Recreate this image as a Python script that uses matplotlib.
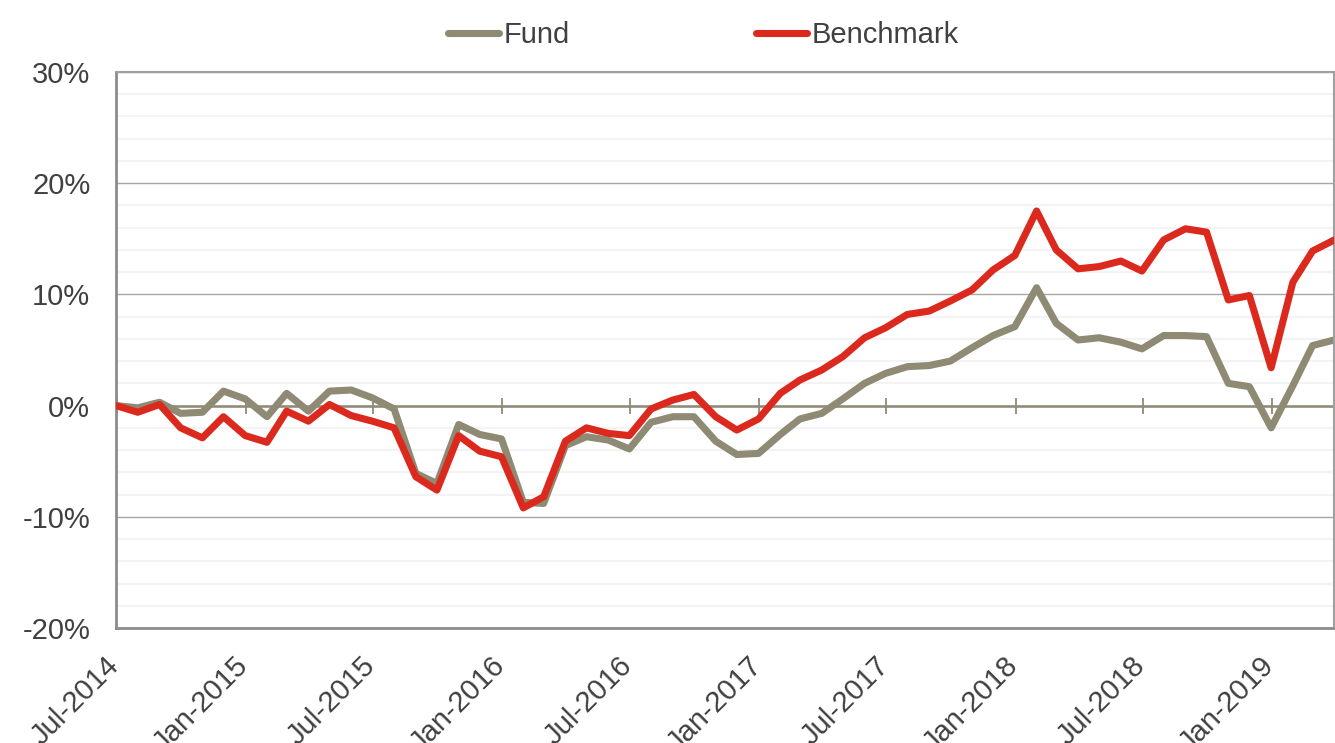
import pandas as pd
import matplotlib.pyplot as plt
import matplotlib.dates as mdates
import matplotlib.transforms as mtransforms
from matplotlib.ticker import MultipleLocator, FuncFormatter

plt.rcParams['font.family'] = ['Liberation Sans', 'DejaVu Sans']

# month-end dates, Jun-2014 .. Mar-2019
dates = pd.date_range("2014-06-30", "2019-03-31", freq="ME")

# cumulative return, %
fund = [0.0, -0.2, 0.3, -0.7, -0.6, 1.3, 0.6, -1.0, 1.1, -0.5,
        1.3, 1.4, 0.7, -0.3, -6.1, -7.0, -1.7, -2.6, -3.0, -8.7,
        -8.8, -3.6, -2.8, -3.1, -3.9, -1.5, -1.0, -1.0, -3.2, -4.4,
        -4.3, -2.6, -1.2, -0.7, 0.6, 2.0, 2.9, 3.5, 3.6, 4.0,
        5.2, 6.3, 7.1, 10.6, 7.4, 5.9, 6.1, 5.7, 5.1, 6.3,
        6.3, 6.2, 2.0, 1.7, -2.0, 1.8, 5.4, 5.9]
benchmark = [0.0, -0.6, 0.1, -2.0, -2.9, -1.0, -2.7, -3.3, -0.5, -1.4,
             0.1, -0.9, -1.4, -2.0, -6.4, -7.6, -2.7, -4.1, -4.6, -9.2,
             -8.2, -3.2, -2.0, -2.5, -2.7, -0.3, 0.5, 1.0, -1.0, -2.2,
             -1.2, 1.1, 2.3, 3.2, 4.4, 6.1, 7.0, 8.2, 8.5, 9.4,
             10.4, 12.2, 13.5, 17.5, 14.0, 12.3, 12.5, 13.0, 12.1, 14.9,
             15.9, 15.6, 9.5, 9.9, 3.4, 11.1, 13.9, 14.9]

tick_dates = pd.date_range("2014-07-01", "2019-01-01", freq="6MS")
tick_labels = [d.strftime("%b-%Y") for d in tick_dates]

FUND_COLOR = "#8f8a74"
BENCH_COLOR = "#dc291e"
TEXT_COLOR = "#404040"
FS = 21

x = mdates.date2num(dates)
xt = mdates.date2num(tick_dates)

fig = plt.figure(figsize=(13.35, 7.43), dpi=100)
ax = fig.add_axes([0.0869, 0.1548, 0.9126, 0.7483])

ax.plot(x, fund, color=FUND_COLOR, lw=5.1, solid_joinstyle="round",
        solid_capstyle="round", label="Fund", zorder=2)
ax.plot(x, benchmark, color=BENCH_COLOR, lw=5.1, solid_joinstyle="round",
        solid_capstyle="round", label="Benchmark", zorder=3)

ax.set_xlim(x[0], x[-1])
ax.set_ylim(-20, 30)
ax.yaxis.set_major_locator(MultipleLocator(10))
ax.yaxis.set_minor_locator(MultipleLocator(2))
ax.yaxis.set_major_formatter(FuncFormatter(lambda v, p: f"{v:.0f}%"))

ax.set_axisbelow(True)
ax.grid(axis="y", which="major", color="#a6a6a6", lw=1.0)
ax.grid(axis="y", which="minor", color="#f3f3f3", lw=1.5)
ax.tick_params(axis="y", which="both", length=0, pad=18.5,
               labelsize=FS, labelcolor=TEXT_COLOR)

ax.set_xticks(xt)
ax.set_xticklabels(tick_labels, rotation=45, ha="right")
ax.tick_params(axis="x", length=0, pad=17, labelsize=FS,
               labelcolor=TEXT_COLOR)
shift = mtransforms.ScaledTranslation(0.08, 0, fig.dpi_scale_trans)
for lab in ax.get_xticklabels():
    lab.set_transform(lab.get_transform() + shift)

for side in ["left", "bottom"]:
    ax.spines[side].set_color("#8c8c8c")
    ax.spines[side].set_linewidth(2)
for side in ["top", "right"]:
    ax.spines[side].set_color("#a0a0a0")
    ax.spines[side].set_linewidth(1.5)

# zero line with half-year ticks
lo, hi = ax.get_ylim()
zero = ax.secondary_xaxis((0 - lo) / (hi - lo))
zero.set_xticks(xt)
zero.tick_params(direction="inout", length=12, width=1.3,
                 color=FUND_COLOR, labelbottom=False, labeltop=False)
zero.spines["bottom"].set_color(FUND_COLOR)
zero.spines["bottom"].set_linewidth(1.8)
zero.set_zorder(1.8)

fig.legend(loc="center", bbox_to_anchor=(0.527, 0.953), ncol=2,
           frameon=False, fontsize=FS, labelcolor=TEXT_COLOR,
           handlelength=1.75, handletextpad=0.15, columnspacing=6.4)

fig.savefig("out.png", dpi=100)
